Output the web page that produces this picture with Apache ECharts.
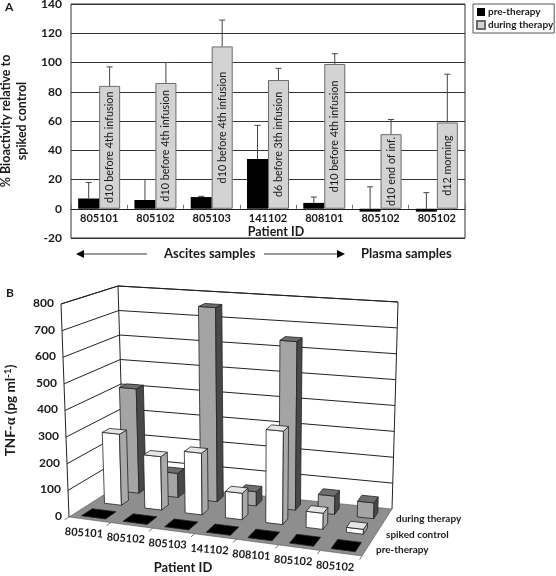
<!DOCTYPE html>
<html>
<head>
<meta charset="utf-8">
<style>html,body{margin:0;padding:0;background:#fff}#c{width:556px;height:576px}</style>
<script src="https://cdn.jsdelivr.net/npm/echarts@6/dist/echarts.min.js"></script>
</head>
<body>
<div id="c"></div>
<script>
// ---- data: panel A
const patientsA = ['805101','805102','805103','141102','808101','805102','805102'];
const preValues = [7, 6, 8, 34, 4, -2, -2];
const preUpper = [18, 20, 8.5, 57, 8, 15, 11];
const duringValues = [84, 86, 111, 88, 99, 51, 59];
const duringUpper = [97, 100, 129, 96, 106, 61, 92];
const duringNotes = ['d10 before 4th infusion','d10 before 4th infusion','d10 before 4th infusion','d6 before 3th infusion','d10 before 4th infusion','d10 end of inf.','d12 morning'];
// ---- data: panel B
const patientsB = ['805101','805102','805103','141102','808101','805102','805102'];
const tnfPre = [0, 0, 0, 0, 0, 0, 0];
const tnfSpiked = [275, 205, 235, 100, 350, 60, 18];
const tnfDuring = [415, 95, 760, 55, 650, 70, 60];
const tnfTicks = [0, 100, 200, 300, 400, 500, 600, 700, 800];
const rowNames = ['pre-therapy', 'spiked control', 'during therapy'];

const FONT = 'Lato, "Open Sans", sans-serif';
const INK = '#1a1a1a';

// Perspective frame of panel B: unit cube corners in page pixels
const F = {
  flb: [69, 517], flt: [61, 304], blb: [124, 482], blt: [118, 286],
  frb: [362, 556], frt: [368, 331], brb: [392, 509], brt: [398, 302]
};
function mix(a, b, t) { return [a[0] + (b[0] - a[0]) * t, a[1] + (b[1] - a[1]) * t]; }
function P(u, v, w) {
  const bl = mix(F.flb, F.blb, v), tl = mix(F.flt, F.blt, v);
  const br = mix(F.frb, F.brb, v), tr = mix(F.frt, F.brt, v);
  return mix(mix(bl, br, u), mix(tl, tr, u), w);
}
function poly(points, fill, stroke, lw) {
  return { type: 'polygon', shape: { points }, style: { fill, stroke: stroke || '#222', lineWidth: lw === undefined ? 0.8 : lw } };
}
function seg(a, b, stroke, lw) {
  return { type: 'line', shape: { x1: a[0], y1: a[1], x2: b[0], y2: b[1] }, style: { stroke: stroke || '#222', lineWidth: lw || 1 } };
}

function upperErr(offsetFrac) {
  return function (params, api) {
    const i = api.value(0), hi = api.value(1), base = api.value(2);
    const bw = api.size([1, 0])[0];
    const a = api.coord([i, Math.max(base, 0)]), b = api.coord([i, hi]);
    const x = a[0] + bw * offsetFrac;
    return { type: 'group', children: [
      seg([x, a[1]], [x, b[1]], '#444', 1),
      seg([x - 3, b[1]], [x + 3, b[1]], '#444', 1)
    ] };
  };
}

const rowStyle = [
  { front: '#000', top: '#000', side: '#000' },
  { front: '#ffffff', top: '#e6e6e6', side: '#a9a9a9' },
  { front: '#a4a4a4', top: '#6e6e6e', side: '#484848' }
];
function bar3d(row) {
  return function (params, api) {
    const cs = params.coordSys;
    const c = api.coord([api.value(0), api.value(1)]);
    const slot = api.size([1, 0])[0] / cs.width;
    const uc = (c[0] - cs.x) / cs.width;
    const w = (cs.y + cs.height - c[1]) / cs.height;
    const halfU = row === 0 ? slot * 0.29 : slot * 0.21;
    const u0 = uc - halfU, u1 = uc + halfU;
    const vc = (row + 0.5) / 3;
    const halfV = (row === 0 ? 0.3 : 0.2) / 3;
    const v0 = vc - halfV, v1 = vc + halfV;
    const s = rowStyle[row];
    const children = [];
    if (w > 0) {
      children.push(poly([P(u0, v0, 0), P(u1, v0, 0), P(u1, v0, w), P(u0, v0, w)], s.front));
      children.push(poly([P(u1, v0, 0), P(u1, v1, 0), P(u1, v1, w), P(u1, v0, w)], s.side));
    }
    children.push(poly([P(u0, v0, w), P(u1, v0, w), P(u1, v1, w), P(u0, v1, w)], s.top));
    return { type: 'group', children };
  };
}
function xyData(arr) { return arr.map((v, i) => [i, v]); }

const option = {
  animation: false,
  backgroundColor: '#fff',
  textStyle: { fontFamily: FONT },
  legend: {
    data: ['pre-therapy', 'during therapy'],
    orient: 'vertical', left: 473, top: 4,
    itemWidth: 8, itemHeight: 8, itemGap: 3, padding: [3, 1, 3, 3],
    icon: 'rect',
    borderColor: '#555', borderWidth: 1,
    selectedMode: false,
    textStyle: { fontFamily: FONT, fontWeight: 'bold', fontSize: 10, color: INK, padding: [0, 0, 0, -2] }
  },
  grid: [
    { left: 71, top: 4, width: 394, height: 234, show: true, borderColor: '#333', borderWidth: 1, backgroundColor: '#fff', outerBoundsMode: 'none' },
    { left: 69, top: 304, width: 300, height: 213, outerBoundsMode: 'none' }
  ],
  xAxis: [
    {
      gridIndex: 0, type: 'category', data: patientsA, z: 1,
      name: 'Patient ID', nameLocation: 'middle', nameGap: -13, nameMoveOverlap: false,
      nameTextStyle: { fontFamily: FONT, fontWeight: 'bold', fontSize: 12.5, color: INK, padding: [0, 0, 0, 16] },
      axisLine: { onZero: true, lineStyle: { color: '#222', width: 1 } },
      axisTick: { show: true, inside: true, length: 4, lineStyle: { color: '#777' } },
      axisLabel: { fontFamily: FONT, fontWeight: 'bold', fontSize: 11, color: INK, margin: -25, interval: 0 }
    },
    { gridIndex: 1, type: 'category', data: patientsB, show: false }
  ],
  yAxis: [
    {
      gridIndex: 0, type: 'value', min: -20, max: 140, interval: 20,
      name: '% Bioactivity relative to\nspiked control', nameLocation: 'middle', nameGap: 41, nameRotate: 90,
      nameTextStyle: { fontFamily: FONT, fontWeight: 'bold', fontSize: 12.5, color: INK, lineHeight: 16 },
      axisLine: { show: false }, axisTick: { show: false },
      axisLabel: { fontFamily: FONT, fontWeight: 'bold', fontSize: 12, color: INK, margin: 9 },
      splitLine: { show: true, lineStyle: { color: '#333', width: 1 } }
    },
    {
      gridIndex: 1, type: 'value', min: 0, max: 800, interval: 100,
      name: '{a|TNF-}{g|\u03b1}{a| (pg ml}{s|-1}{a|)}', nameLocation: 'middle', nameGap: 50, nameRotate: 90,
      nameTextStyle: {
        rich: {
          a: { fontFamily: FONT, fontWeight: 'bold', fontSize: 13.5, color: INK },
          g: { fontFamily: '"Liberation Serif", serif', fontWeight: 'bold', fontSize: 14, color: INK },
          s: { fontFamily: FONT, fontWeight: 'bold', fontSize: 10, color: INK, verticalAlign: 'top', padding: [0, 0, 6, 0] }
        }
      },
      axisLine: { show: false }, axisTick: { show: false }, axisLabel: { show: false }, splitLine: { show: false }
    }
  ],
  series: [
    {
      name: 'pre-therapy', type: 'bar', xAxisIndex: 0, yAxisIndex: 0, data: preValues,
      barWidth: 21, barGap: 0, z: 4,
      itemStyle: { color: '#000' }
    },
    {
      name: 'during therapy', type: 'bar', xAxisIndex: 0, yAxisIndex: 0, data: duringValues,
      barWidth: 21, barGap: 0, z: 4,
      itemStyle: { color: '#d3d3d3', borderColor: '#6b6b6b', borderWidth: 1 },
      label: {
        show: true, position: 'inside', rotate: 90,
        formatter: p => duringNotes[p.dataIndex],
        fontFamily: FONT, fontSize: 10.8, color: INK
      }
    },
    {
      name: 'pre err', type: 'custom', xAxisIndex: 0, yAxisIndex: 0, z: 5,
      data: preUpper.map((v, i) => [i, v, preValues[i]]),
      renderItem: upperErr(-0.186), silent: true
    },
    {
      name: 'during err', type: 'custom', xAxisIndex: 0, yAxisIndex: 0, z: 5,
      data: duringUpper.map((v, i) => [i, v, duringValues[i]]),
      renderItem: upperErr(0.186), silent: true
    },
    // Panel B frame: walls and floor
    {
      name: 'frame', type: 'custom', xAxisIndex: 1, yAxisIndex: 1, z: 1, silent: true,
      data: [[0, 0]],
      renderItem: function () {
        const kids = [
          poly([P(0,0,0), P(1,0,0), P(1,1,0), P(0,1,0)], '#8e8e8e', '#555', 0.6),
          seg(P(0,0,0), P(0,0,1)), seg(P(0,0,1), P(0,1,1)), seg(P(0,1,0), P(0,1,1)),
          seg(P(0,1,1), P(1,1,1)), seg(P(1,1,1), P(1,1,0))
        ];
        for (let k = 0; k <= 7; k++) {
          kids.push(seg(P(k / 7, 0, 0), P(k / 7, -0.08, 0), '#555', 0.8));
        }
        return { type: 'group', children: kids };
      }
    },
    // Panel B gridlines and value labels
    {
      name: 'ticks', type: 'custom', xAxisIndex: 1, yAxisIndex: 1, z: 1, silent: true,
      data: tnfTicks.map(t => [0, t]),
      renderItem: function (params, api) {
        const cs = params.coordSys;
        const w = (cs.y + cs.height - api.coord([0, api.value(1)])[1]) / cs.height;
        const a = P(0, 0, w);
        const kids = [{
          type: 'text', x: a[0] - 7, y: a[1] - 1,
          style: { text: String(api.value(1)), fill: INK, font: 'bold 12px ' + FONT, textAlign: 'right', textVerticalAlign: 'middle' }
        }];
        if (w > 0) {
          kids.push(seg(a, P(0, 1, w)));
          kids.push(seg(P(0, 1, w), P(1, 1, w)));
        }
        return { type: 'group', children: kids };
      }
    },
    { name: 'B during', type: 'custom', xAxisIndex: 1, yAxisIndex: 1, z: 2, silent: true, data: xyData(tnfDuring), renderItem: bar3d(2) },
    { name: 'B spiked', type: 'custom', xAxisIndex: 1, yAxisIndex: 1, z: 3, silent: true, data: xyData(tnfSpiked), renderItem: bar3d(1) },
    { name: 'B pre', type: 'custom', xAxisIndex: 1, yAxisIndex: 1, z: 4, silent: true, data: xyData(tnfPre), renderItem: bar3d(0) },
    // Panel B category labels
    {
      name: 'B cats', type: 'custom', xAxisIndex: 1, yAxisIndex: 1, z: 5, silent: true,
      data: patientsB.map((n, i) => [i, 0]),
      renderItem: function (params, api) {
        const cs = params.coordSys;
        const u = (api.coord([api.value(0), 0])[0] - cs.x) / cs.width;
        const a = P(u, 0, 0);
        return {
          type: 'text', x: a[0] - 6, y: a[1] + 13, rotation: -0.07,
          style: { text: patientsB[api.value(0)], fill: INK, font: 'bold 11px ' + FONT, textAlign: 'center', textVerticalAlign: 'middle' }
        };
      }
    },
    // Panel B depth labels
    {
      name: 'B rows', type: 'custom', xAxisIndex: 1, yAxisIndex: 1, z: 5, silent: true,
      data: rowNames.map((n, i) => [0, 0, i]),
      renderItem: function (params, api) {
        const r = api.value(2);
        const a = P(1, (r + 0.5) / 3, 0);
        return {
          type: 'text', x: a[0] + 9, y: a[1] + 2,
          style: { text: rowNames[r], fill: INK, font: 'bold 10px ' + FONT, textAlign: 'left', textVerticalAlign: 'middle' }
        };
      }
    }
  ],
  graphic: [
    { type: 'text', left: 5, top: 1, style: { text: 'A', font: 'bold 12px ' + FONT, fill: INK } },
    { type: 'text', left: 6, top: 287, style: { text: 'B', font: 'bold 12px ' + FONT, fill: INK } },
    { type: 'text', x: 164, y: 254, style: { text: 'Ascites samples', font: 'bold 13px ' + FONT, fill: INK, textVerticalAlign: 'middle' } },
    { type: 'text', x: 361, y: 254, style: { text: 'Plasma samples', font: 'bold 13px ' + FONT, fill: INK, textVerticalAlign: 'middle' } },
    { type: 'line', shape: { x1: 80, y1: 254, x2: 147, y2: 254 }, style: { stroke: '#333', lineWidth: 1 } },
    { type: 'polygon', shape: { points: [[76, 254], [84, 250], [84, 258]] }, style: { fill: '#000' } },
    { type: 'line', shape: { x1: 264, y1: 254, x2: 340, y2: 254 }, style: { stroke: '#333', lineWidth: 1 } },
    { type: 'polygon', shape: { points: [[345, 254], [337, 250], [337, 258]] }, style: { fill: '#000' } },
    { type: 'text', x: 183, y: 568, style: { text: 'Patient ID', font: 'bold 13px ' + FONT, fill: INK, textAlign: 'center', textVerticalAlign: 'middle' } }
  ]
};
const chart = echarts.init(document.getElementById('c'), null, { renderer: 'canvas' });
chart.setOption(option);
</script>
</body>
</html>
